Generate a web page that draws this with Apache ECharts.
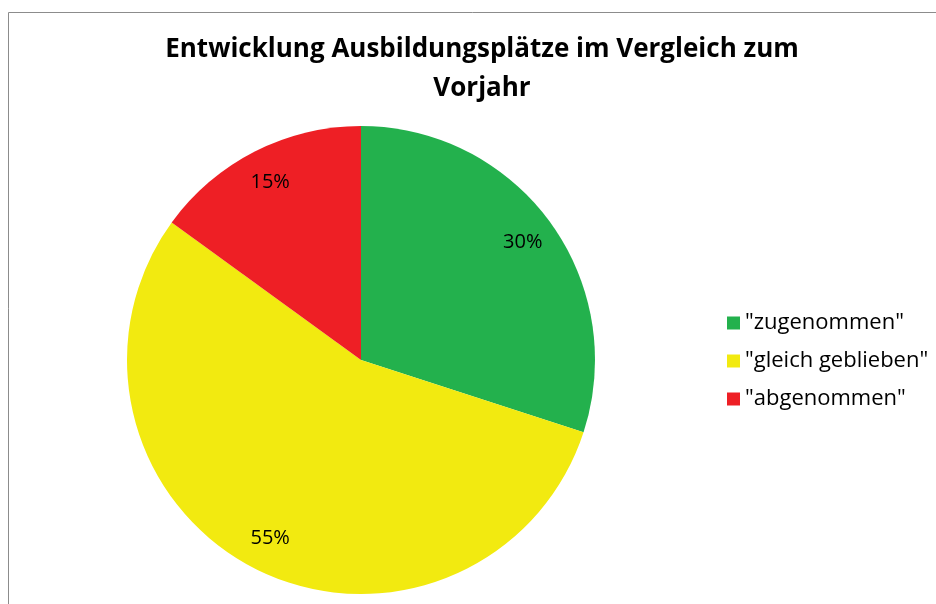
<!DOCTYPE html>
<html>
<head>
<meta charset="utf-8">
<script src="https://cdn.jsdelivr.net/npm/echarts@6/dist/echarts.min.js"></script>
<style>
  html, body { margin: 0; padding: 0; background: #fff; }
  #main { width: 936px; height: 604px; }
</style>
</head>
<body>
<div id="main"></div>
<script>
// Daten
var categories = ['"zugenommen"', '"gleich geblieben"', '"abgenommen"'];
var values = [30, 55, 15];
var colors = ['#23b14d', '#f2ea10', '#ee1f25'];

var pieData = categories.map(function (name, i) {
    return { name: name, value: values[i], itemStyle: { color: colors[i] } };
});

var myChart = echarts.init(document.getElementById('main'));
var option = {
    animation: false,
    title: {
        text: 'Entwicklung Ausbildungsplätze im Vergleich zum\nVorjahr',
        left: 477,
        top: 25,
        textAlign: 'center',
        textStyle: {
            fontFamily: 'Open Sans',
            fontWeight: 'bold',
            fontSize: 26,
            lineHeight: 39,
            color: '#000'
        }
    },
    graphic: [{   // Rahmen
        type: 'rect',
        shape: { x: 8.5, y: 12.5, width: 1000, height: 1000 },
        style: { fill: null, stroke: '#8c8c8c', lineWidth: 1 },
        silent: true
    }],
    legend: {
        orient: 'vertical',
        left: 722,
        top: 307,
        itemWidth: 13,
        itemHeight: 13,
        itemGap: 16,
        icon: 'rect',
        data: categories,
        textStyle: { fontFamily: 'Open Sans', fontSize: 22, lineHeight: 22, color: '#000' }
    },
    series: [
        {
            name: 'Ausbildungsplätze',
            type: 'pie',
            center: [361, 360],
            radius: 234,
            startAngle: 90,
            clockwise: true,
            label: { show: false },
            labelLine: { show: false },
            silent: true,
            data: pieData
        },
        {   // Beschriftung innerhalb der Segmente
            name: 'labels',
            type: 'pie',
            center: [361, 360],
            radius: [192, 202],
            startAngle: 90,
            silent: true,
            itemStyle: { color: 'transparent' },
            label: {
                show: true,
                position: 'inside',
                formatter: '{c}%',
                fontFamily: 'Open Sans',
                fontSize: 20,
                color: '#000'
            },
            labelLine: { show: false },
            data: categories.map(function (name, i) {
                return { name: name, value: values[i], itemStyle: { color: 'transparent' } };
            })
        }
    ]
};
myChart.setOption(option);
</script>
</body>
</html>
